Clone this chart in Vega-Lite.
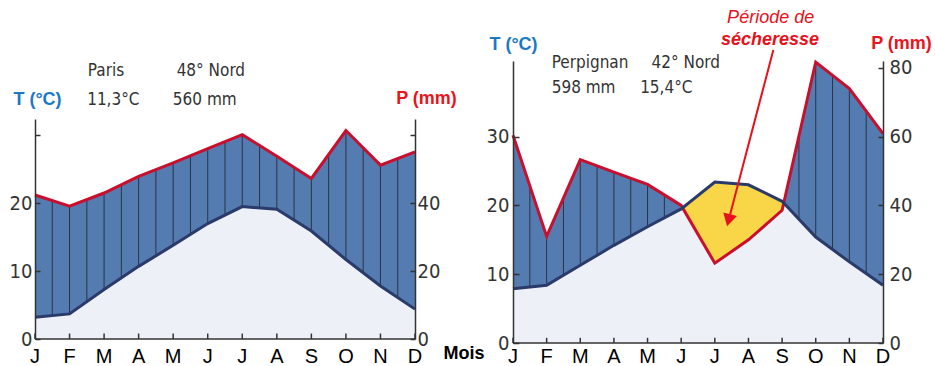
{
  "$schema": "https://vega.github.io/schema/vega-lite/v6.json",
  "background": "white",
  "padding": {"left": 9, "top": 5, "right": 5, "bottom": 5},
  "spacing": 98,
  "bounds": "flush",
  "config": {"view": {"stroke": null}},
  "datasets": {
    "paris": [
      {"m": 1, "mois": "J", "T": 3.2, "P": 42.4},
      {"m": 2, "mois": "F", "T": 3.7, "P": 39.1},
      {"m": 3, "mois": "M", "T": 7.3, "P": 43.0},
      {"m": 4, "mois": "A", "T": 10.7, "P": 47.9},
      {"m": 5, "mois": "M", "T": 13.8, "P": 51.9},
      {"m": 6, "mois": "J", "T": 17.0, "P": 56.1},
      {"m": 7, "mois": "J", "T": 19.5, "P": 60.2},
      {"m": 8, "mois": "A", "T": 19.1, "P": 53.8},
      {"m": 9, "mois": "S", "T": 15.9, "P": 47.3},
      {"m": 10, "mois": "O", "T": 11.7, "P": 61.4},
      {"m": 11, "mois": "N", "T": 7.8, "P": 51.2},
      {"m": 12, "mois": "D", "T": 4.4, "P": 55.1}
    ],
    "perpignan": [
      {"m": 1, "mois": "J", "T": 7.9, "P": 60.4},
      {"m": 2, "mois": "F", "T": 8.4, "P": 31.0},
      {"m": 3, "mois": "M", "T": 11.3, "P": 53.3},
      {"m": 4, "mois": "A", "T": 14.2, "P": 49.7},
      {"m": 5, "mois": "M", "T": 16.9, "P": 46.1},
      {"m": 6, "mois": "J", "T": 19.5, "P": 40.0},
      {"m": 7, "mois": "J", "T": 23.4, "P": 23.2},
      {"m": 8, "mois": "A", "T": 23.0, "P": 30.0},
      {"m": 9, "mois": "S", "T": 20.6, "P": 38.6},
      {"m": 10, "mois": "O", "T": 15.4, "P": 81.7},
      {"m": 11, "mois": "N", "T": 11.8, "P": 74.0},
      {"m": 12, "mois": "D", "T": 8.4, "P": 60.9}
    ]
  },
  "hconcat": [
    {
      "width": 380,
      "height": 333,
      "data": {"name": "paris"},
      "resolve": {"scale": {"y": "independent"}},
      "encoding": {
        "x": {
          "field": "m", "type": "quantitative",
          "scale": {"domain": [1, 12], "nice": false, "zero": false},
          "axis": null
        }
      },
      "layer": [
        {
          "mark": {"type": "area", "color": "#547cb0"},
          "encoding": {
            "y": {
              "field": "P", "type": "quantitative", "stack": null,
              "scale": {"domain": [0, 64.8], "range": [333, 113], "nice": false, "zero": false},
              "axis": {
                "orient": "right", "values": [0, 20, 40, 60],
                "labelExpr": "datum.value == 60 ? '' : datum.label",
                "grid": false, "tickSize": -5, "labelPadding": 7,
                "labelFont": "DejaVu Sans Condensed", "labelFontSize": 20, "labelColor": "#333",
                "domainColor": "#333", "domainWidth": 1.5, "tickColor": "#333", "tickWidth": 1.5,
                "title": "P (mm)", "titleAngle": 0, "titleX": 11, "titleY": 92,
                "titleAlign": "center", "titleBaseline": "middle",
                "titleFont": "Liberation Sans", "titleFontSize": 18, "titleFontWeight": "bold", "titleColor": "#e8141c",
                "zindex": 1
              }
            }
          }
        },
        {
          "transform": [{"filter": "datum.m > 1 && datum.m < 12"}],
          "mark": {"type": "rule", "color": "#2c3347", "strokeWidth": 1}
        },
        {
          "transform": [{"filter": "datum.m < 12"}],
          "mark": {"type": "rule", "color": "#2c3347", "strokeWidth": 1, "xOffset": 17.27}
        },
        {
          "mark": {"type": "area", "color": "#ffffff"},
          "encoding": {
            "y": {"field": "P", "type": "quantitative", "stack": null, "axis": null,
                  "scale": {"domain": [0, 64.8], "range": [333, 113], "nice": false, "zero": false}},
            "y2": {"value": 0}
          }
        },
        {
          "mark": {"type": "area", "color": "#edf1f7"},
          "encoding": {
            "y": {
              "field": "T", "type": "quantitative", "stack": null,
              "scale": {"domain": [0, 32.4], "range": [333, 113], "nice": false, "zero": false},
              "axis": {
                "orient": "left", "values": [0, 10, 20, 30],
                "labelExpr": "datum.value == 30 ? '' : datum.label",
                "grid": false, "tickSize": -5, "labelPadding": 8,
                "labelFont": "DejaVu Sans Condensed", "labelFontSize": 20, "labelColor": "#333",
                "domainColor": "#333", "domainWidth": 1.5, "tickColor": "#333", "tickWidth": 1.5,
                "title": "T (°C)", "titleAngle": 0, "titleX": 2, "titleY": 93,
                "titleAlign": "center", "titleBaseline": "middle",
                "titleFont": "Liberation Sans", "titleFontSize": 18, "titleFontWeight": "bold", "titleColor": "#1a78c4",
                "zindex": 1
              }
            }
          }
        },
        {
          "mark": {"type": "line", "color": "#c8102e", "strokeWidth": 3},
          "encoding": {
            "y": {"field": "P", "type": "quantitative", "axis": null,
                  "scale": {"domain": [0, 64.8], "range": [333, 113], "nice": false, "zero": false}}
          }
        },
        {
          "mark": {"type": "line", "color": "#2a3a6b", "strokeWidth": 3},
          "encoding": {
            "y": {"field": "T", "type": "quantitative", "axis": null,
                  "scale": {"domain": [0, 32.4], "range": [333, 113], "nice": false, "zero": false}}
          }
        },
        {
          "transform": [{"filter": "datum.m == 1"}],
          "mark": {"type": "rule", "color": "#333", "strokeWidth": 1.5},
          "encoding": {
            "x": {"datum": 1, "type": "quantitative", "axis": null},
            "x2": {"datum": 12},
            "y": {"datum": 0, "type": "quantitative", "axis": null,
                  "scale": {"domain": [0, 32.4], "range": [333, 113], "nice": false, "zero": false}}
          }
        },
        {
          "mark": {"type": "rule", "color": "#333", "strokeWidth": 1.5},
          "encoding": {
            "y": {"datum": 0, "type": "quantitative", "axis": null,
                  "scale": {"domain": [0, 32.4], "range": [333, 113], "nice": false, "zero": false}},
            "y2": {"datum": 0.8}
          }
        },
        {
          "mark": {"type": "text", "align": "center", "baseline": "middle", "font": "Liberation Sans", "fontSize": 20, "color": "#000"},
          "encoding": {
            "text": {"field": "mois"},
            "y": {"datum": -2.65, "type": "quantitative", "axis": null,
                  "scale": {"domain": [0, 32.4], "range": [333, 113], "nice": false, "zero": false}}
          }
        },
        {
          "transform": [{"filter": "datum.m == 1"}],
          "mark": {"type": "text", "align": "center", "baseline": "middle", "font": "Liberation Sans", "fontSize": 18, "fontWeight": "bold", "color": "#000", "text": "Mois"},
          "encoding": {
            "x": {"datum": 13.42, "type": "quantitative", "axis": null},
            "y": {"datum": -2.16, "type": "quantitative", "axis": null,
                  "scale": {"domain": [0, 32.4], "range": [333, 113], "nice": false, "zero": false}}
          }
        },
        {
          "transform": [{"filter": "datum.m == 1"}],
          "mark": {"type": "text", "align": "left", "baseline": "middle", "font": "DejaVu Sans Condensed", "fontSize": 17, "color": "#333", "text": "Paris"},
          "encoding": {
            "x": {"datum": 2.53, "type": "quantitative", "axis": null},
            "y": {"datum": 39.5, "type": "quantitative", "axis": null,
                  "scale": {"domain": [0, 32.4], "range": [333, 113], "nice": false, "zero": false}}
          }
        },
        {
          "transform": [{"filter": "datum.m == 1"}],
          "mark": {"type": "text", "align": "left", "baseline": "middle", "font": "DejaVu Sans Condensed", "fontSize": 17, "color": "#333", "text": "48° Nord"},
          "encoding": {
            "x": {"datum": 5.1, "type": "quantitative", "axis": null},
            "y": {"datum": 39.5, "type": "quantitative", "axis": null,
                  "scale": {"domain": [0, 32.4], "range": [333, 113], "nice": false, "zero": false}}
          }
        },
        {
          "transform": [{"filter": "datum.m == 1"}],
          "mark": {"type": "text", "align": "left", "baseline": "middle", "font": "DejaVu Sans Condensed", "fontSize": 17, "color": "#333", "text": "11,3°C"},
          "encoding": {
            "x": {"datum": 2.51, "type": "quantitative", "axis": null},
            "y": {"datum": 35.2, "type": "quantitative", "axis": null,
                  "scale": {"domain": [0, 32.4], "range": [333, 113], "nice": false, "zero": false}}
          }
        },
        {
          "transform": [{"filter": "datum.m == 1"}],
          "mark": {"type": "text", "align": "left", "baseline": "middle", "font": "DejaVu Sans Condensed", "fontSize": 17, "color": "#333", "text": "560 mm"},
          "encoding": {
            "x": {"datum": 4.99, "type": "quantitative", "axis": null},
            "y": {"datum": 35.2, "type": "quantitative", "axis": null,
                  "scale": {"domain": [0, 32.4], "range": [333, 113], "nice": false, "zero": false}}
          }
        }
      ]
    },
    {
      "width": 370,
      "height": 337,
      "data": {"name": "perpignan"},
      "resolve": {"scale": {"y": "independent"}},
      "encoding": {
        "x": {
          "field": "m", "type": "quantitative",
          "scale": {"domain": [1, 12], "nice": false, "zero": false},
          "axis": null
        }
      },
      "layer": [
        {
          "mark": {"type": "area", "color": "#547cb0"},
          "encoding": {
            "y": {
              "field": "P", "type": "quantitative", "stack": null,
              "scale": {"domain": [0, 82], "range": [337, 55], "nice": false, "zero": false},
              "axis": {
                "orient": "right", "values": [0, 20, 40, 60, 80],
                "grid": false, "tickSize": -5, "labelPadding": 11,
                "labelFont": "DejaVu Sans Condensed", "labelFontSize": 20, "labelColor": "#333",
                "domainColor": "#333", "domainWidth": 1.5, "tickColor": "#333", "tickWidth": 1.5,
                "title": "P (mm)", "titleAngle": 0, "titleX": 18, "titleY": 37,
                "titleAlign": "center", "titleBaseline": "middle",
                "titleFont": "Liberation Sans", "titleFontSize": 18, "titleFontWeight": "bold", "titleColor": "#e8141c",
                "zindex": 1
              }
            }
          }
        },
        {
          "transform": [{"filter": "datum.m > 1 && datum.m < 12"}],
          "mark": {"type": "rule", "color": "#2c3347", "strokeWidth": 1}
        },
        {
          "transform": [{"filter": "datum.m < 12"}],
          "mark": {"type": "rule", "color": "#2c3347", "strokeWidth": 1, "xOffset": 16.82}
        },
        {
          "mark": {"type": "area", "color": "#ffffff"},
          "encoding": {
            "y": {"field": "P", "type": "quantitative", "stack": null, "axis": null,
                  "scale": {"domain": [0, 82], "range": [337, 55], "nice": false, "zero": false}},
            "y2": {"value": 0}
          }
        },
        {
          "mark": {"type": "area", "color": "#edf1f7"},
          "encoding": {
            "y": {
              "field": "T", "type": "quantitative", "stack": null,
              "scale": {"domain": [0, 41], "range": [337, 55], "nice": false, "zero": false},
              "axis": {
                "orient": "left", "values": [0, 10, 20, 30],
                "grid": false, "tickSize": -6, "labelPadding": 10,
                "labelFont": "DejaVu Sans Condensed", "labelFontSize": 20, "labelColor": "#333",
                "domainColor": "#333", "domainWidth": 1.5, "tickColor": "#333", "tickWidth": 1.5,
                "title": "T (°C)", "titleAngle": 0, "titleX": 0, "titleY": 38,
                "titleAlign": "center", "titleBaseline": "middle",
                "titleFont": "Liberation Sans", "titleFontSize": 18, "titleFontWeight": "bold", "titleColor": "#1a78c4",
                "zindex": 1
              }
            }
          }
        },
        {
          "transform": [{"filter": "datum.m >= 6 && datum.m <= 9"}],
          "mark": {"type": "area", "color": "#f9d648"},
          "encoding": {
            "y": {"field": "T", "type": "quantitative", "stack": null, "axis": null,
                  "scale": {"domain": [0, 41], "range": [337, 55], "nice": false, "zero": false}}
          }
        },
        {
          "transform": [{"filter": "datum.m >= 6 && datum.m <= 9"}],
          "mark": {"type": "area", "color": "#edf1f7", "stroke": "#edf1f7", "strokeWidth": 1.5},
          "encoding": {
            "y": {"field": "P", "type": "quantitative", "stack": null, "axis": null,
                  "scale": {"domain": [0, 82], "range": [337, 55], "nice": false, "zero": false}}
          }
        },
        {
          "mark": {"type": "line", "color": "#c8102e", "strokeWidth": 3},
          "encoding": {
            "y": {"field": "P", "type": "quantitative", "axis": null,
                  "scale": {"domain": [0, 82], "range": [337, 55], "nice": false, "zero": false}}
          }
        },
        {
          "mark": {"type": "line", "color": "#2a3a6b", "strokeWidth": 3},
          "encoding": {
            "y": {"field": "T", "type": "quantitative", "axis": null,
                  "scale": {"domain": [0, 41], "range": [337, 55], "nice": false, "zero": false}}
          }
        },
        {
          "transform": [{"filter": "datum.m == 1"}],
          "mark": {"type": "rule", "color": "#333", "strokeWidth": 1.5},
          "encoding": {
            "x": {"datum": 1, "type": "quantitative", "axis": null},
            "x2": {"datum": 12},
            "y": {"datum": 0, "type": "quantitative", "axis": null,
                  "scale": {"domain": [0, 41], "range": [337, 55], "nice": false, "zero": false}}
          }
        },
        {
          "mark": {"type": "rule", "color": "#333", "strokeWidth": 1.5},
          "encoding": {
            "y": {"datum": 0, "type": "quantitative", "axis": null,
                  "scale": {"domain": [0, 41], "range": [337, 55], "nice": false, "zero": false}},
            "y2": {"datum": 0.75}
          }
        },
        {
          "mark": {"type": "text", "align": "center", "baseline": "middle", "font": "Liberation Sans", "fontSize": 20, "color": "#000"},
          "encoding": {
            "text": {"field": "mois"},
            "y": {"datum": -2.04, "type": "quantitative", "axis": null,
                  "scale": {"domain": [0, 41], "range": [337, 55], "nice": false, "zero": false}}
          }
        },
        {
          "transform": [{"filter": "datum.m == 1"}],
          "mark": {"type": "text", "align": "left", "baseline": "middle", "font": "DejaVu Sans Condensed", "fontSize": 17, "color": "#333", "text": "Perpignan"},
          "encoding": {
            "x": {"datum": 2.15, "type": "quantitative", "axis": null},
            "y": {"datum": 40.7, "type": "quantitative", "axis": null,
                  "scale": {"domain": [0, 41], "range": [337, 55], "nice": false, "zero": false}}
          }
        },
        {
          "transform": [{"filter": "datum.m == 1"}],
          "mark": {"type": "text", "align": "left", "baseline": "middle", "font": "DejaVu Sans Condensed", "fontSize": 17, "color": "#333", "text": "42° Nord"},
          "encoding": {
            "x": {"datum": 5.12, "type": "quantitative", "axis": null},
            "y": {"datum": 40.7, "type": "quantitative", "axis": null,
                  "scale": {"domain": [0, 41], "range": [337, 55], "nice": false, "zero": false}}
          }
        },
        {
          "transform": [{"filter": "datum.m == 1"}],
          "mark": {"type": "text", "align": "left", "baseline": "middle", "font": "DejaVu Sans Condensed", "fontSize": 17, "color": "#333", "text": "598 mm"},
          "encoding": {
            "x": {"datum": 2.15, "type": "quantitative", "axis": null},
            "y": {"datum": 37.1, "type": "quantitative", "axis": null,
                  "scale": {"domain": [0, 41], "range": [337, 55], "nice": false, "zero": false}}
          }
        },
        {
          "transform": [{"filter": "datum.m == 1"}],
          "mark": {"type": "text", "align": "left", "baseline": "middle", "font": "DejaVu Sans Condensed", "fontSize": 17, "color": "#333", "text": "15,4°C"},
          "encoding": {
            "x": {"datum": 4.78, "type": "quantitative", "axis": null},
            "y": {"datum": 37.1, "type": "quantitative", "axis": null,
                  "scale": {"domain": [0, 41], "range": [337, 55], "nice": false, "zero": false}}
          }
        },
        {
          "transform": [{"filter": "datum.m == 1"}],
          "mark": {"type": "text", "align": "center", "baseline": "middle", "font": "Liberation Sans", "fontSize": 18, "fontStyle": "italic", "color": "#e8101a", "text": "Période de"},
          "encoding": {
            "x": {"datum": 8.66, "type": "quantitative", "axis": null},
            "y": {"datum": 47.3, "type": "quantitative", "axis": null,
                  "scale": {"domain": [0, 41], "range": [337, 55], "nice": false, "zero": false}}
          }
        },
        {
          "transform": [{"filter": "datum.m == 1"}],
          "mark": {"type": "text", "align": "center", "baseline": "middle", "font": "Liberation Sans", "fontSize": 18, "fontStyle": "italic", "fontWeight": "bold", "color": "#e8101a", "text": "sécheresse"},
          "encoding": {
            "x": {"datum": 8.64, "type": "quantitative", "axis": null},
            "y": {"datum": 44.1, "type": "quantitative", "axis": null,
                  "scale": {"domain": [0, 41], "range": [337, 55], "nice": false, "zero": false}}
          }
        },
        {
          "transform": [{"filter": "datum.m == 1"}],
          "mark": {"type": "rule", "color": "#e8101a", "strokeWidth": 2},
          "encoding": {
            "x": {"datum": 8.74, "type": "quantitative", "axis": null},
            "x2": {"datum": 7.41},
            "y": {"datum": 42.6, "type": "quantitative", "axis": null,
                  "scale": {"domain": [0, 41], "range": [337, 55], "nice": false, "zero": false}},
            "y2": {"datum": 17.85}
          }
        },
        {
          "transform": [{"filter": "datum.m == 1"}],
          "mark": {"type": "point", "shape": "triangle-down", "filled": true, "color": "#e8101a", "opacity": 1, "size": 200, "angle": 14.6},
          "encoding": {
            "x": {"datum": 7.41, "type": "quantitative", "axis": null},
            "y": {"datum": 17.85, "type": "quantitative", "axis": null,
                  "scale": {"domain": [0, 41], "range": [337, 55], "nice": false, "zero": false}}
          }
        }
      ]
    }
  ]
}
